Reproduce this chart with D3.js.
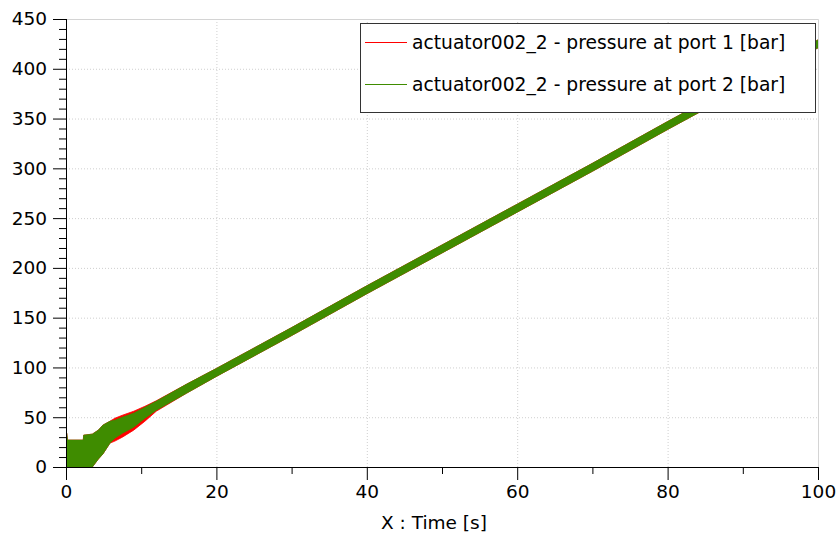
<!DOCTYPE html>
<html>
<head>
<meta charset="utf-8">
<script src="https://cdn.jsdelivr.net/npm/d3@7"></script>
<style>
  body { margin: 0; background: #fff; }
  svg { display: block; }
</style>
</head>
<body>
<svg id="chart" width="838" height="538"></svg>
<script>
// time samples [s]
const timeS = [0, 0.1, 0.2, 2.3, 2.35, 3.5, 4.3, 4.9, 5.85, 6.5, 7.5, 9, 10.5, 12, 16, 20, 30, 40, 50, 60, 70, 80, 90, 100];

// envelope of the oscillating traces [bar]
const port1Upper = [34, 34, 27, 27, 32, 33, 37, 42, 46, 49, 52, 56, 61, 66.5, 83, 99, 140, 182, 223, 264, 305, 347, 388, 429];
const port1Lower = [0, 0, 0, 0, 0, 0, 8, 13, 24, 26, 30, 37, 46, 56, 74, 91, 132, 174, 215, 256, 297, 339, 380, 421];
const port2Upper = [34, 34, 27, 27, 32, 33, 37, 42, 46, 47, 50, 54, 60, 66, 83, 99, 140, 182, 223, 264, 305, 347, 388, 429];
const port2Lower = [0, 0, 0, 0, 0, 0, 8, 13, 24, 29, 34, 40, 49, 57, 74, 91, 132, 174, 215, 256, 297, 339, 380, 421];

const xTicks = [0, 20, 40, 60, 80, 100];
const yTicks = [0, 50, 100, 150, 200, 250, 300, 350, 400, 450];
const xMinor = [10, 30, 50, 70, 90];
const yMinor = [10, 20, 30, 40, 60, 70, 80, 90, 110, 120, 130, 140, 160, 170, 180, 190,
  210, 220, 230, 240, 260, 270, 280, 290, 310, 320, 330, 340, 360, 370, 380, 390, 410, 420, 430, 440];

const seriesNames = ["actuator002_2 - pressure at port 1 [bar]", "actuator002_2 - pressure at port 2 [bar]"];
const seriesColors = ["#ff0000", "#3f8c00"];

const width = 838, height = 538;
const margin = { top: 19, right: 20, bottom: 71, left: 66 };
const font = "'DejaVu Sans', Verdana, sans-serif";

const svg = d3.select("#chart");

const x = d3.scaleLinear().domain([0, 100]).range([margin.left, width - margin.right]);
const y = d3.scaleLinear().domain([0, 450]).range([height - margin.bottom, margin.top]);

// grid
const grid = svg.append("g").attr("stroke", "#cfcfcf").attr("stroke-dasharray", "1,2");
grid.selectAll(".gy").data(yTicks.filter(d => d > 0 && d < 450)).enter().append("line")
  .attr("x1", x(0)).attr("x2", x(100))
  .attr("y1", d => y(d) + 0.5).attr("y2", d => y(d) + 0.5);
grid.selectAll(".gx").data(xTicks.filter(d => d > 0 && d < 100)).enter().append("line")
  .attr("y1", y(0)).attr("y2", y(450))
  .attr("x1", d => x(d) + 0.5).attr("x2", d => x(d) + 0.5);

// top and right frame
svg.append("path")
  .attr("d", `M${x(0)},${y(450) + 0.5}H${x(100) + 0.5}V${y(0)}`)
  .attr("fill", "none").attr("stroke", "#d4d4d4");

svg.append("defs").append("clipPath").attr("id", "plot-clip")
  .append("rect")
  .attr("x", x(0)).attr("y", y(450))
  .attr("width", x(100) - x(0)).attr("height", y(0) - y(450) + 2);

const band = (upper, lower) => d3.area()
  .x((d, i) => x(timeS[i]))
  .y0((d, i) => y(lower[i]))
  .y1((d, i) => y(upper[i]))(timeS);

const traces = svg.append("g").attr("clip-path", "url(#plot-clip)");
traces.append("path").attr("d", band(port1Upper, port1Lower))
  .attr("fill", seriesColors[0]).attr("stroke", seriesColors[0]).attr("stroke-width", 0.8);
traces.append("path").attr("d", band(port2Upper, port2Lower))
  .attr("fill", seriesColors[1]).attr("stroke", seriesColors[1]).attr("stroke-width", 0.8);

// axes
const yAxis = svg.append("g")
  .attr("transform", `translate(${x(0)},0)`)
  .call(d3.axisLeft(y).tickValues(yTicks).tickSize(13).tickPadding(6).tickSizeOuter(0));
const xAxis = svg.append("g")
  .attr("transform", `translate(0,${y(0)})`)
  .call(d3.axisBottom(x).tickValues(xTicks).tickSize(13).tickPadding(5).tickSizeOuter(0));

[yAxis, xAxis].forEach(g => {
  g.attr("font-family", font).attr("font-size", 18.5);
  g.selectAll("text").attr("fill", "#000");
  g.selectAll("line").attr("stroke", "#000");
});
yAxis.select(".domain").attr("d", `M0.5,${y(450)}V${y(0) + 13}`).attr("stroke", "#000");
xAxis.select(".domain").attr("d", `M${x(0) - 13},0.5H${x(100) + 0.5}`).attr("stroke", "#000");

svg.append("g").selectAll("line").data(yMinor).enter().append("line")
  .attr("x1", x(0) - 7).attr("x2", x(0))
  .attr("y1", d => y(d) + 0.5).attr("y2", d => y(d) + 0.5)
  .attr("stroke", "#000");
svg.append("g").selectAll("line").data(xMinor).enter().append("line")
  .attr("y1", y(0)).attr("y2", y(0) + 7)
  .attr("x1", d => x(d) + 0.5).attr("x2", d => x(d) + 0.5)
  .attr("stroke", "#000");

svg.append("text")
  .attr("x", 434).attr("y", 529)
  .attr("text-anchor", "middle")
  .attr("font-family", font).attr("font-size", 18.5)
  .text("X : Time [s]");

// legend
const legend = svg.append("g").attr("transform", "translate(360,23)");
legend.append("rect")
  .attr("x", 0.5).attr("y", 0.5).attr("width", 455).attr("height", 89)
  .attr("fill", "#fff").attr("stroke", "#333");
const rows = legend.selectAll(".row").data(seriesNames).enter().append("g")
  .attr("transform", (d, i) => `translate(0,${19 + i * 42})`);
rows.append("line")
  .attr("x1", 5).attr("x2", 47).attr("y1", 0.5).attr("y2", 0.5)
  .attr("stroke", (d, i) => seriesColors[i]).attr("stroke-width", 1);
rows.append("text")
  .attr("x", 52).attr("y", 7)
  .attr("font-family", font).attr("font-size", 18.7)
  .text(d => d);
</script>
</body>
</html>
